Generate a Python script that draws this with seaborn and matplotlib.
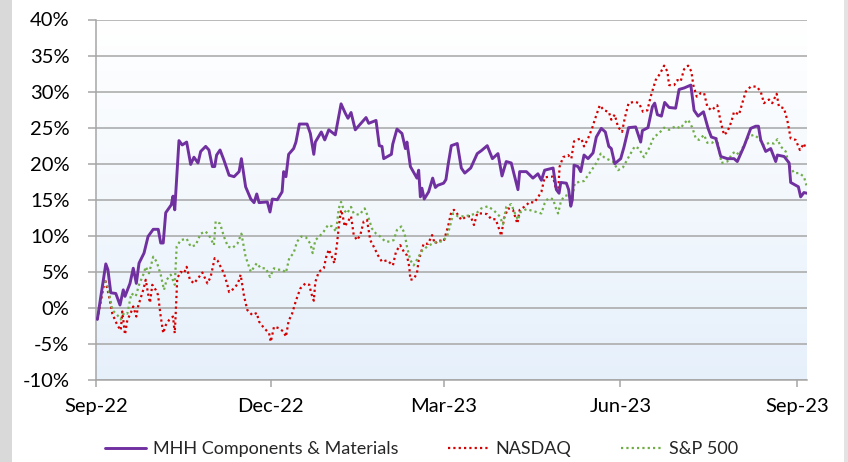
import matplotlib
matplotlib.use("Agg")
import matplotlib.pyplot as plt
import matplotlib.dates as mdates
import matplotlib.ticker as mticker
from matplotlib.colors import LinearSegmentedColormap
from matplotlib.patches import Rectangle
import numpy as np
import pandas as pd
import seaborn as sns

START = "2022-09-01"

# days after START, value in %
mhh_days = [0.7, 5.1, 6.2, 7.7, 10.3, 12.5, 14.2, 15.1, 17.7, 19.4, 21.0, 22.4, 25.0, 27.1, 29.8,
            32.4, 33.7, 35.0, 36.3, 39.2, 40.1, 41.0, 43.2, 44.9, 47.2, 49.3, 51.0, 53.1, 54.5,
            57.1, 58.8, 60.6, 61.8, 62.8, 64.6, 66.6, 69.3, 71.9, 74.5, 75.7, 77.9, 80.6, 82.3,
            83.7, 84.9, 89.2, 90.6, 91.8, 94.4, 96.9, 97.7, 98.9, 100.3, 102.9, 104.1, 105.9,
            109.9, 111.6, 113.4, 114.2, 117.3, 119.1, 121.2, 124.6, 127.6, 129.8, 131.2, 132.8,
            135.0, 137.6, 140.6, 142.0, 145.8, 147.5, 148.9, 149.8, 153.8, 154.5, 156.7, 159.3,
            161.1, 161.9, 163.7, 167.1, 168.0, 168.9, 169.7, 170.9, 173.2, 175.3, 176.7, 177.9,
            181.0, 182.2, 183.3, 185.0, 188.1, 190.2, 192.0, 195.1, 198.5, 200.6, 203.7, 206.4,
            209.3, 211.4, 213.6, 216.2, 218.0, 219.7, 220.6, 224.1, 227.5, 230.1, 231.9, 233.6,
            238.0, 239.7, 241.1, 242.0, 244.9, 246.1, 247.2, 248.0, 248.9, 251.0, 252.4, 254.1,
            256.2, 258.8, 260.5, 263.1, 265.2, 267.0, 268.3, 270.1, 273.2, 274.9, 277.3, 281.0,
            283.6, 284.5, 287.4, 289.7, 290.9, 292.3, 294.4, 296.1, 298.4, 301.8, 303.6, 306.2,
            309.7, 311.4, 313.5, 316.3, 318.7, 320.4, 322.7, 325.3, 328.7, 332.2, 333.9, 337.4,
            340.9, 343.5, 344.9, 346.1, 348.7, 351.3, 353.9, 354.8, 358.3, 360.9, 361.7, 364.3,
            365.7, 366.9, 368.6, 370.2]
mhh_vals = [-1.6, 6.1, 5.3, 2.1, 2.0, 0.4, 2.5, 1.6, 3.4, 5.5, 3.4, 6.2, 7.6, 9.9, 10.9,
            10.9, 9.0, 9.0, 13.2, 14.3, 15.5, 13.6, 23.2, 22.6, 23.0, 19.9, 20.9, 20.1, 21.7,
            22.4, 21.9, 19.6, 19.6, 21.2, 21.9, 20.5, 18.4, 18.2, 18.9, 20.7, 16.8, 15.1, 14.6,
            15.8, 14.6, 14.7, 13.3, 15.1, 15.0, 16.1, 18.9, 18.2, 21.3, 22.1, 23.0, 25.5,
            25.5, 24.2, 21.3, 23.0, 24.4, 23.3, 24.7, 24.0, 28.3, 27.0, 26.3, 27.1,
            24.7, 25.5, 26.4, 25.6, 26.0, 22.5, 22.4, 20.7, 21.3, 22.7, 24.8, 24.2,
            22.1, 23.0, 19.6, 18.0, 19.1, 15.4, 16.6, 15.1, 16.1, 18.0, 16.7, 17.0,
            17.3, 17.8, 19.8, 22.5, 22.8, 19.4, 18.7, 19.4, 21.4, 21.8, 22.5, 20.7,
            21.4, 18.3, 20.3, 20.1, 18.2, 16.4, 18.9, 18.9, 18.0, 18.6, 17.7, 19.1,
            19.4, 16.4, 15.9, 17.4, 17.3, 16.4, 14.1, 15.0, 19.8, 19.6, 18.9, 21.2,
            20.7, 21.5, 23.7, 24.9, 24.4, 22.4, 22.1, 20.0, 20.7, 22.3, 25.0, 25.1,
            23.0, 24.6, 25.0, 27.9, 28.4, 26.8, 26.6, 28.5, 27.8, 27.7, 30.3, 30.5,
            30.9, 27.4, 26.6, 27.2, 24.9, 23.7, 23.5, 21.0, 20.7, 20.7, 20.3, 22.4,
            24.9, 25.2, 25.2, 23.3, 21.7, 22.1, 20.3, 21.2, 21.0, 20.1, 17.4, 17.0,
            16.8, 15.4, 16.0, 15.9]

nasdaq_days = [0.7, 4.7, 6.8, 8.5, 11.1, 12.9, 13.7, 15.1, 16.3, 18.1, 19.4, 21.0, 21.9, 24.6,
               25.9, 27.1, 28.1, 29.3, 31.1, 32.3, 33.7, 35.0, 36.3, 38.0, 40.1, 41.0, 41.5,
               42.3, 44.1, 45.8, 47.2, 48.9, 51.0, 53.1, 55.4, 58.0, 59.7, 61.8, 63.2, 64.9,
               66.6, 68.4, 69.3, 71.9, 73.9, 75.3, 77.1, 78.8, 81.4, 83.7, 84.9, 87.5, 90.1,
               91.0, 92.7, 95.1, 97.7, 98.9, 100.3, 102.1, 104.1, 106.4, 109.0, 111.1, 112.1,
               113.4, 114.2, 116.0, 118.6, 119.9, 121.2, 122.5, 124.1, 125.5, 126.4, 127.6,
               128.5, 129.5, 131.2, 132.8, 134.2, 135.9, 137.6, 139.4, 141.1, 142.8, 144.6,
               146.8, 148.9, 151.5, 154.6, 156.2, 158.4, 160.7, 161.9, 163.1, 163.7, 165.4,
               167.1, 168.0, 170.6, 172.9, 175.0, 176.4, 178.4, 181.0, 183.3, 185.0, 186.4,
               188.5, 190.2, 192.8, 195.1, 196.8, 198.5, 201.5, 203.7, 205.8, 208.1, 209.8,
               211.0, 212.4, 214.5, 217.1, 219.4, 220.6, 223.5, 225.8, 228.1, 229.8, 231.9,
               233.6, 236.2, 238.0, 239.2, 240.6, 241.4, 243.2, 245.8, 247.5, 248.9, 251.3,
               252.7, 254.1, 256.2, 258.3, 259.7, 262.3, 264.5, 267.0, 268.3, 270.1, 271.8,
               273.9, 275.3, 277.3, 280.5, 282.7, 284.8, 287.1, 288.8, 291.4, 293.7, 295.8,
               297.5, 298.4, 301.0, 302.7, 304.4, 306.2, 308.3, 310.0, 311.0, 312.8, 314.9,
               316.6, 318.3, 320.4, 323.5, 325.3, 327.0, 328.7, 330.8, 332.2, 334.8, 336.5,
               338.3, 340.9, 344.0, 346.1, 347.8, 350.4, 352.1, 354.4, 355.6, 358.2, 359.9,
               361.7, 364.3, 366.5, 368.6, 369.5]
nasdaq_vals = [-1.6, 4.0, 1.6, -0.8, -2.4, -3.1, -0.5, -3.7, -1.7, -0.7, 0.2, -1.2, 0.2, 2.5,
               3.9, 2.0, 0.7, 3.2, 2.5, 1.8, -1.2, -3.5, -2.4, -1.7, -1.2, -3.5, -0.8,
               4.1, 5.0, 4.8, 5.7, 3.9, 3.4, 4.1, 4.9, 3.4, 4.3, 6.9, 6.6, 5.7,
               4.8, 3.2, 2.2, 2.7, 3.4, 4.6, 1.6, -0.3, -1.0, -0.7, -1.9, -2.8, -3.5,
               -4.7, -2.6, -2.8, -3.3, -4.0, -1.8, -0.8, 1.0, 2.7, 3.4, 3.2, 2.0,
               1.0, 3.6, 5.0, 5.5, 7.1, 8.1, 7.3, 6.2, 8.9, 11.3, 13.6,
               12.7, 11.3, 12.0, 12.7, 10.1, 9.4, 10.1, 12.0, 12.2, 9.4, 8.5,
               7.3, 6.4, 6.6, 5.9, 7.8, 8.7, 7.6, 7.3, 5.7, 3.9, 4.0,
               4.8, 6.6, 8.9, 8.9, 10.1, 8.9, 9.4, 9.2, 11.3, 13.3, 13.6,
               12.9, 12.2, 12.7, 12.7, 11.5, 13.1, 13.1, 13.0, 12.3, 12.3, 11.0,
               10.0, 12.4, 13.8, 13.6, 11.7, 13.6, 14.1, 14.7, 14.6, 15.2, 16.1,
               18.1, 18.2, 18.2, 16.8, 16.1, 19.6, 20.9, 21.2, 20.7, 23.1, 23.4,
               23.5, 22.4, 23.5, 24.9, 26.1, 28.1, 27.4, 27.2, 26.1, 26.8, 25.1,
               24.4, 26.3, 28.4, 28.6, 28.4, 27.2, 27.4, 29.3, 31.6, 32.5, 33.6,
               32.8, 30.9, 30.9, 31.6, 31.4, 33.1, 33.6, 32.8, 30.9, 29.3, 29.8,
               29.8, 27.9, 27.4, 28.1, 25.8, 24.0, 24.4, 25.8, 27.2, 26.8, 28.4,
               30.0, 30.7, 30.7, 30.0, 28.4, 28.9, 28.4, 29.7, 27.9, 27.7, 26.1,
               23.5, 23.3, 21.9, 22.8, 22.1]

sp500_days = [0.7, 4.2, 6.2, 8.5, 11.1, 12.9, 14.6, 16.3, 18.4, 20.7, 22.4, 24.6, 25.9, 27.6,
              29.8, 31.6, 33.7, 35.4, 36.8, 38.9, 41.0, 42.0, 44.1, 47.2, 49.3, 51.9, 54.5,
              57.1, 59.4, 61.4, 62.3, 64.6, 66.6, 68.7, 71.0, 73.6, 75.7, 77.9, 80.6, 83.7,
              85.8, 88.4, 90.6, 92.7, 94.2, 96.9, 98.9, 100.6, 102.9, 104.7, 106.9, 109.3,
              111.6, 112.8, 114.2, 116.3, 118.6, 120.8, 122.9, 125.0, 126.4, 127.6, 129.0,
              130.7, 132.8, 134.2, 137.1, 139.9, 142.0, 143.7, 145.8, 148.0, 150.6, 153.2,
              155.0, 156.7, 159.0, 160.7, 161.9, 163.7, 165.4, 168.0, 169.7, 172.4, 175.0,
              177.6, 180.2, 182.8, 185.0, 185.9, 188.5, 192.0, 195.4, 198.0, 200.6, 204.1,
              207.2, 210.2, 211.9, 213.6, 216.2, 218.0, 219.7, 221.1, 224.1, 226.7, 229.3,
              231.9, 233.6, 235.4, 238.0, 239.2, 240.6, 242.0, 243.7, 246.6, 247.9, 249.3,
              251.9, 254.1, 256.2, 258.8, 261.0, 262.8, 264.5, 266.6, 269.2, 271.8, 274.4,
              277.5, 280.5, 282.7, 285.3, 287.9, 290.5, 293.1, 295.8, 298.4, 301.8, 304.4,
              306.2, 308.3, 310.5, 312.3, 314.0, 316.6, 318.3, 320.9, 323.2, 324.4, 325.6,
              328.7, 331.3, 333.1, 334.8, 337.4, 340.0, 342.6, 345.2, 347.8, 350.4, 353.0,
              354.8, 356.5, 359.1, 360.9, 363.5, 366.1, 368.6, 369.9]
sp500_vals = [-1.6, 4.0, 2.9, -0.3, -1.0, -1.6, -0.7, -0.8, 2.0, 1.6, 3.2, 4.6, 5.7, 4.8,
              7.1, 6.4, 4.6, 2.5, 3.9, 4.6, 3.2, 8.5, 9.4, 9.6, 8.5, 8.7, 10.3,
              10.6, 9.8, 8.7, 12.0, 11.7, 9.9, 8.5, 8.3, 8.9, 10.3, 7.1, 5.0, 6.2,
              5.5, 5.5, 4.3, 5.5, 5.3, 5.3, 4.9, 6.9, 7.6, 9.2, 9.9, 9.8,
              8.9, 7.6, 9.4, 9.9, 10.6, 11.5, 11.3, 10.6, 13.8, 14.7, 13.6,
              13.1, 14.0, 13.1, 12.9, 13.8, 12.4, 11.0, 10.3, 9.9, 9.2, 9.2,
              9.4, 10.8, 11.3, 10.3, 8.5, 6.6, 5.9, 7.1, 7.9, 8.5, 8.9,
              9.2, 9.2, 9.9, 12.0, 13.1, 12.7, 12.7, 12.9, 13.1, 13.8, 14.1,
              13.5, 12.7, 11.6, 14.0, 14.4, 13.2, 12.2, 13.3, 13.7, 13.5, 13.3,
              13.1, 14.5, 15.2, 15.1, 14.0, 13.1, 14.7, 15.5, 15.7, 15.2, 17.3,
              17.5, 17.6, 18.4, 19.4, 20.3, 21.4, 20.9, 20.6, 20.3, 19.1, 19.5,
              21.0, 22.4, 22.1, 20.9, 22.1, 23.7, 24.2, 25.0, 24.7, 25.2, 24.9,
              25.6, 26.1, 25.0, 23.5, 23.3, 24.0, 22.9, 22.9, 23.5, 22.1, 20.1,
              20.3, 21.4, 21.7, 21.2, 22.6, 23.8, 24.0, 23.5, 22.5, 22.9, 22.8,
              23.4, 22.4, 21.7, 19.8, 18.7, 18.7, 18.2, 17.0]

series_names = ["MHH Components & Materials", "NASDAQ", "S&P 500"]
colors = ["#7030A0", "#D40000", "#70AD47"]
tick_dates = ["2022-09-01", "2022-12-01", "2023-03-01", "2023-06-01", "2023-09-01"]


def to_frame(days, vals):
    start = pd.Timestamp(START)
    return pd.DataFrame({"date": start + pd.to_timedelta(days, unit="D"), "ret": vals})


sns.set_theme(style="white")
plt.rcParams["font.family"] = ["Lato", "DejaVu Sans"]
plt.rcParams["axes.unicode_minus"] = False

fig = plt.figure(figsize=(8.48, 4.62), dpi=100)
fig.patch.set_facecolor("white")
ax = fig.add_axes([96 / 848, 1 - 380 / 462, (807 - 96) / 848, (380 - 19.5) / 462])

# gray frame strips at the figure edges
fig.patches.append(Rectangle((0, 0), 12 / 848, 1, transform=fig.transFigure,
                             facecolor="#d9d9d9", edgecolor="none", zorder=0))
fig.patches.append(Rectangle((844 / 848, 0), 4 / 848, 1, transform=fig.transFigure,
                             facecolor="#e3e3e3", edgecolor="none", zorder=0))

# plot-area gradient (white at top -> pale blue at bottom)
grad = np.linspace(0, 1, 256).reshape(-1, 1)
cmap = LinearSegmentedColormap.from_list("bg", ["#e6f0fb", "#f3f8fd", "#ffffff"])
ax.imshow(grad, extent=[0, 1, 0, 1], transform=ax.transAxes, origin="lower",
          cmap=cmap, aspect="auto", zorder=0)

dot = (0, (1, 1.4))
sns.lineplot(data=to_frame(mhh_days, mhh_vals), x="date", y="ret", ax=ax,
             color=colors[0], lw=2.1, label=series_names[0],
             estimator=None, sort=False, zorder=4)
sns.lineplot(data=to_frame(nasdaq_days, nasdaq_vals), x="date", y="ret", ax=ax,
             color=colors[1], lw=1.6, linestyle=dot, label=series_names[1],
             estimator=None, sort=False, zorder=3)
sns.lineplot(data=to_frame(sp500_days, sp500_vals), x="date", y="ret", ax=ax,
             color=colors[2], lw=1.6, linestyle=dot, label=series_names[2],
             estimator=None, sort=False, zorder=3)

ax.set_xlim(pd.Timestamp(START), pd.Timestamp(START) + pd.Timedelta(days=370.2))
ax.set_ylim(-10, 40)
ax.set_yticks(np.arange(-10, 41, 5))
ax.yaxis.set_major_formatter(mticker.FuncFormatter(lambda v, p: f"{v:.0f}%"))
ax.set_xticks(pd.to_datetime(tick_dates))
ax.xaxis.set_major_formatter(mdates.DateFormatter("%b-%y"))
ax.set_xlabel("")
ax.set_ylabel("")

grid_c = "#a6a6a6"
ax.grid(axis="y", color=grid_c, lw=1.1, zorder=1)
ax.set_axisbelow(True)
for side in ["top", "right"]:
    ax.spines[side].set_visible(False)
for side in ["left", "bottom"]:
    ax.spines[side].set_color(grid_c)
    ax.spines[side].set_linewidth(1.1)
ax.tick_params(axis="y", length=6, width=1.1, color=grid_c, pad=13,
               labelsize=14.5, labelcolor="black", left=True)
ax.tick_params(axis="x", length=5, width=1.1, color=grid_c, pad=8,
               labelsize=14.5, labelcolor="black", bottom=True)

handles, labels = ax.get_legend_handles_labels()
ax.get_legend().remove()
fig.legend(handles, labels, loc="center", bbox_to_anchor=(0.497, 0.028),
           ncol=3, frameon=False, fontsize=13, handlelength=2.3,
           handletextpad=0.35, columnspacing=2.75)

fig.savefig("out.png", dpi=100)
